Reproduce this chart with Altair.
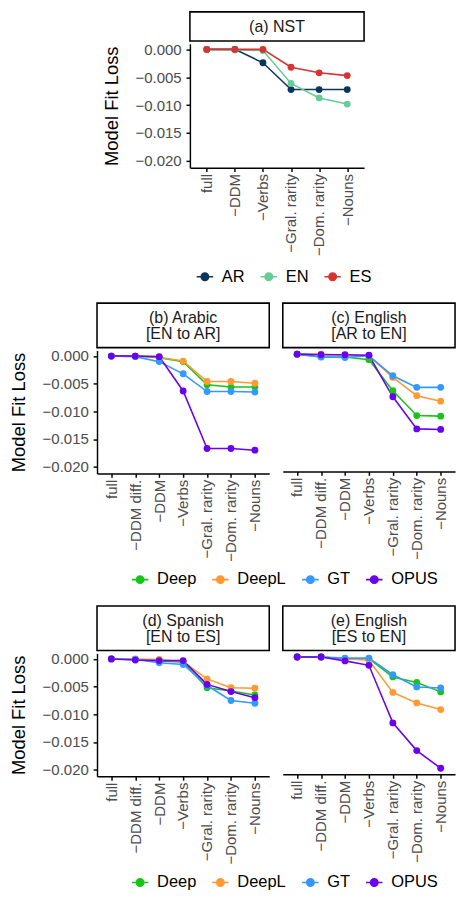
import altair as alt
import pandas as pd

FONT = "Liberation Sans"

steps_a = ["full", "−DDM", "−Verbs", "−Gral. rarity", "−Dom. rarity", "−Nouns"]
steps_mt = ["full", "−DDM diff.", "−DDM", "−Verbs", "−Gral. rarity", "−Dom. rarity", "−Nouns"]

nst_langs = ["AR", "EN", "ES"]
nst_colors = ["#0c355c", "#66cc99", "#d63333"]
a_AR = [0.0, 0.0, -0.0024, -0.0072, -0.0072, -0.0072]
a_EN = [0.0, -0.0001, -0.0002, -0.0061, -0.0087, -0.0098]
a_ES = [0.0, 0.0, 0.0, -0.0032, -0.0042, -0.0047]

mt_systems = ["Deep", "DeepL", "GT", "OPUS"]
mt_colors = ["#19c419", "#ff9933", "#3399ff", "#6a00f0"]

b_Deep = [0.0, 0.0, -0.0003, -0.0010, -0.0052, -0.0056, -0.0056]
b_DeepL = [0.0, 0.0, -0.0002, -0.0009, -0.0046, -0.0046, -0.0049]
b_GT = [0.0, -0.0001, -0.0010, -0.0032, -0.0064, -0.0064, -0.0065]
b_OPUS = [0.0, 0.0, -0.0001, -0.0063, -0.0167, -0.0167, -0.0170]

c_Deep = [0.0, -0.0005, -0.0005, -0.0010, -0.0066, -0.0111, -0.0112]
c_DeepL = [0.0, 0.0, -0.0002, -0.0003, -0.0042, -0.0075, -0.0085]
c_GT = [0.0, -0.0005, -0.0006, -0.0003, -0.0039, -0.0060, -0.0060]
c_OPUS = [0.0, -0.0001, -0.0001, -0.0002, -0.0077, -0.0135, -0.0136]

d_Deep = [0.0, -0.0001, -0.0003, -0.0006, -0.0052, -0.0058, -0.0065]
d_DeepL = [0.0, 0.0, -0.0001, -0.0005, -0.0036, -0.0052, -0.0053]
d_GT = [0.0, -0.0001, -0.0007, -0.0010, -0.0048, -0.0075, -0.0080]
d_OPUS = [0.0, -0.0002, -0.0003, -0.0003, -0.0046, -0.0059, -0.0070]

e_Deep = [0.0, 0.0, -0.0003, -0.0003, -0.0036, -0.0046, -0.0063]
e_DeepL = [0.0, 0.0, -0.0003, -0.0006, -0.0064, -0.0083, -0.0095]
e_GT = [0.0, 0.0, -0.0002, -0.0002, -0.0032, -0.0054, -0.0056]
e_OPUS = [0.0, 0.0, -0.0007, -0.0015, -0.0119, -0.0169, -0.0201]

y_ticks = [0.0, -0.005, -0.010, -0.015, -0.020]
y_domain = [-0.0212, 0.001]

SYMBOL = "M-1,0L1,0M-0.45,0A0.45,0.45,0,1,1,0.45,0A0.45,0.45,0,1,1,-0.45,0Z"
LAB = 15.5
LEG = 17


def long_df(steps, series):
    rows = []
    for name, vals in series.items():
        for i, (s, v) in enumerate(zip(steps, vals)):
            rows.append({"step": s, "series": name, "loss": v, "idx": i})
    return pd.DataFrame(rows)


def strip(lines, x0, width, height):
    """Strip box drawn from x0 to x0+width inside a view of width x0+width."""
    n = len(lines) if isinstance(lines, list) else 1
    y0 = height / 2 - (n - 1) * 17 / 2 + 1
    base = alt.Chart(pd.DataFrame({"k": [0]}))
    box = base.mark_rect(fill="white", stroke="black", strokeWidth=1.6).encode(
        x=alt.value(x0), x2=alt.value(x0 + width), y=alt.value(0), y2=alt.value(height))
    txt = base.mark_text(
        font=FONT, fontSize=16.5, lineHeight=17, color="#1a1a1a", baseline="middle", align="center"
    ).encode(text=alt.value(lines), x=alt.value(x0 + width / 2), y=alt.value(y0))
    return alt.layer(box, txt).properties(width=x0 + width, height=height)


def plot(df, steps, domain, colors, x0, width, height, show_y, leg_x, leg_y):
    x = alt.X("step:N", sort=steps,
              scale=alt.Scale(type="point", domain=steps, padding=0.6, range=[x0, x0 + width]),
              axis=alt.Axis(title=None, labelAngle=-90, labelPadding=2))
    if show_y:
        y = alt.Y("loss:Q", scale=alt.Scale(domain=y_domain, nice=False, zero=False),
                  axis=alt.Axis(values=y_ticks, format=".3f", title="Model Fit Loss",
                                labelPadding=5, offset=-x0))
    else:
        y = alt.Y("loss:Q", scale=alt.Scale(domain=y_domain, nice=False, zero=False), axis=None)
    color = alt.Color("series:N", scale=alt.Scale(domain=domain, range=colors),
                      legend=alt.Legend(title=None, orient="none", direction="horizontal",
                                        legendX=leg_x, legendY=leg_y, padding=0,
                                        symbolType=SYMBOL, symbolSize=289, symbolStrokeWidth=1.6,
                                        labelFontSize=LEG, labelFont=FONT, labelColor="black",
                                        columnPadding=12, labelOffset=8))
    base = alt.Chart(df).encode(x=x, y=y, color=color, order=alt.Order("idx:Q"))
    lines = base.mark_line(strokeWidth=1.6)
    pts = base.mark_circle(size=50, opacity=1)
    return alt.layer(lines, pts).properties(width=x0 + width, height=height)


def panel(df, steps, domain, colors, lines, x0, width, height, strip_h, show_y, leg_x, leg_y):
    return alt.vconcat(strip(lines, x0, width, strip_h),
                       plot(df, steps, domain, colors, x0, width, height, show_y, leg_x, leg_y),
                       spacing=0)


dfa = long_df(steps_a, {"AR": a_AR, "EN": a_EN, "ES": a_ES})
dfb = long_df(steps_mt, {"Deep": b_Deep, "DeepL": b_DeepL, "GT": b_GT, "OPUS": b_OPUS})
dfc = long_df(steps_mt, {"Deep": c_Deep, "DeepL": c_DeepL, "GT": c_GT, "OPUS": c_OPUS})
dfd = long_df(steps_mt, {"Deep": d_Deep, "DeepL": d_DeepL, "GT": d_GT, "OPUS": d_OPUS})
dfe = long_df(steps_mt, {"Deep": e_Deep, "DeepL": e_DeepL, "GT": e_GT, "OPUS": e_OPUS})

W = 178
H = 127
A_SHIFT = 96
LEGY_A = 264
LEGY_MT = 276
LEGX_MT = 35

pa = panel(dfa, steps_a, nst_langs, nst_colors, "(a) NST", A_SHIFT, 180, 128, 30, True,
           A_SHIFT + 6, LEGY_A)
pb = panel(dfb, steps_mt, mt_systems, mt_colors, ["(b) Arabic", "[EN to AR]"], 0, W, H, 46, True,
           LEGX_MT, LEGY_MT)
pc = panel(dfc, steps_mt, mt_systems, mt_colors, ["(c) English", "[AR to EN]"], 0, W, H, 46, False,
           LEGX_MT, LEGY_MT)
pd_ = panel(dfd, steps_mt, mt_systems, mt_colors, ["(d) Spanish", "[EN to ES]"], 0, W, H, 46, True,
            LEGX_MT, LEGY_MT)
pe = panel(dfe, steps_mt, mt_systems, mt_colors, ["(e) English", "[ES to EN]"], 0, W, H, 46, False,
           LEGX_MT, LEGY_MT)

row2 = alt.hconcat(pb, pc, spacing=12)
row3 = alt.hconcat(pd_, pe, spacing=12)

chart = alt.vconcat(pa, row2, row3, spacing=18).resolve_scale(
    color="independent"
).properties(padding={"left": 2, "top": -12, "right": 0, "bottom": 0}).configure_view(
    strokeWidth=0
).configure_axis(
    grid=False, domainColor="black", domainWidth=1.5, tickColor="black", tickWidth=1.5,
    tickSize=4, labelColor="#4d4d4d", labelFont=FONT, labelFontSize=LAB,
    titleFont=FONT, titleFontSize=19, titleFontWeight="normal", titleColor="black",
    titlePadding=14
)

chart.save("out.html", embed_options={"renderer": "svg", "actions": False})
